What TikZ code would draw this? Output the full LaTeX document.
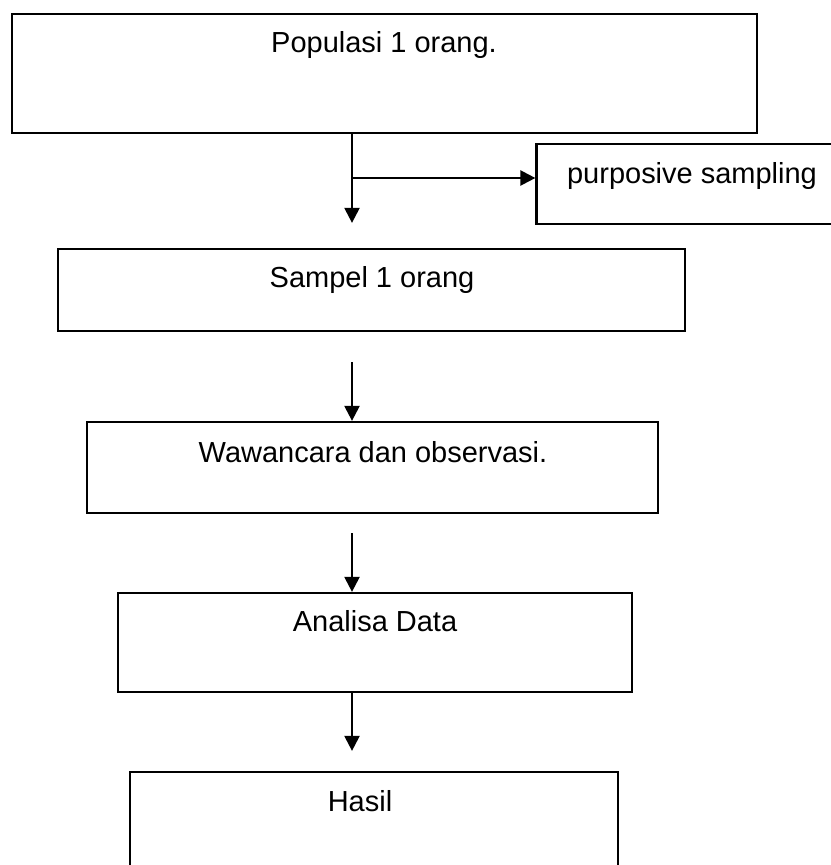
\documentclass[tikz,border=0pt]{standalone}
\usepackage{fontspec}
\setmainfont{Liberation Sans}
\usetikzlibrary{positioning,arrows.meta}

\begin{document}
\begin{tikzpicture}[
  x=0.02cm, y=-0.02cm,
  box/.style={draw,line width=1.3pt,inner sep=0pt},
  txt/.style={anchor=base,inner sep=0pt,font=\fontsize{16.5}{20}\selectfont},
  arr/.style={-{Triangle[length=0.3cm,width=0.3cm]},line width=1.3pt},
]

\useasboundingbox (0,0) rectangle (831,865);
\clip (0,0) rectangle (831,865);

% Boxes
\node[box,minimum width=14.9cm,minimum height=2.38cm] (pop) at (384.5,73.5) {};
\node[box,minimum width=6.5cm,minimum height=1.6cm] (purp) at (699,184) {};
\node[box,minimum width=12.54cm,minimum height=1.64cm] (samp) at (371.5,290) {};
\node[box,minimum width=11.42cm,minimum height=1.82cm] (waw) at (372.5,467.5) {};
\node[box,minimum width=10.28cm,minimum height=1.98cm] (ana) at (375,642.5) {};
\node[box,minimum width=9.76cm,minimum height=2.16cm] (has) at (374,826) {};

% Texts (first line of each box)
\node[txt] (popT) at (384,53) {Populasi 1 orang.};
\node[txt] (purpT) at (692,183) {purposive sampling};
\node[txt] (sampT) at (372,287) {Sampel 1 orang};
\node[txt] (wawT) at (373,462) {Wawancara dan observasi.};
\node[txt] (anaT) at (375,631) {Analisa Data};
\node[txt] (hasT) at (360,811) {Hasil};

% Arrows
\coordinate (axis) at (352,0);
\coordinate (branch) at (352,178);
\draw[arr,shorten >=0.5cm] (pop.south -| axis) -- (samp.north -| axis);
\draw[arr] (branch) -- (branch -| purp.west);
\draw[arr,shorten <=0.6cm] (samp.south -| axis) -- (waw.north -| axis);
\draw[arr,shorten <=0.38cm] (waw.south -| axis) -- (ana.north -| axis);
\draw[arr,shorten >=0.4cm] (ana.south -| axis) -- (has.north -| axis);

\end{tikzpicture}
\end{document}
